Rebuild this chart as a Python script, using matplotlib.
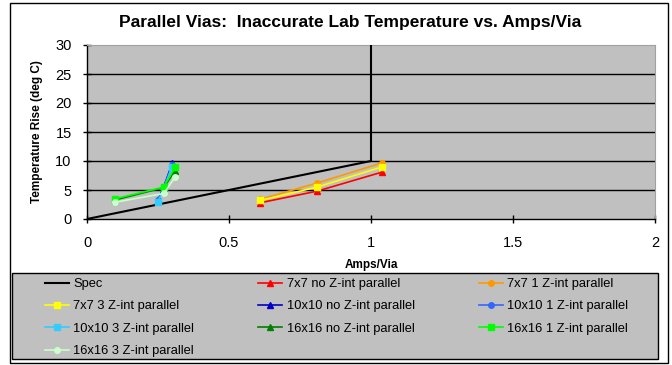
import matplotlib.pyplot as plt
from matplotlib.patches import Rectangle

plt.rcParams['font.family'] = ['Liberation Sans', 'DejaVu Sans']

# spec line
spec_x = [0, 1, 1]
spec_y = [0, 10, 30]

# 7x7 series
x7 = [0.61, 0.81, 1.04]
y7_no = [2.8, 4.8, 8.1]
y7_1 = [3.4, 6.2, 9.7]
y7_3 = [3.2, 5.5, 9.0]

# 10x10 series
x10 = [0.25, 0.27, 0.30]
y10_no = [3.3, 5.5, 9.6]
y10_1 = [3.2, 5.6, 9.3]
y10_3 = [3.0, 5.2, 9.0]

# 16x16 series
x16 = [0.10, 0.27, 0.31]
y16_no = [3.3, 5.4, 8.3]
y16_1 = [3.5, 5.5, 8.9]
y16_3 = [2.9, 4.4, 7.2]

series = [
    ('7x7 no Z-int parallel', x7, y7_no, '#FF0000', '^'),
    ('7x7 1 Z-int parallel', x7, y7_1, '#FF9900', 'o'),
    ('7x7 3 Z-int parallel', x7, y7_3, '#FFFF00', 's'),
    ('10x10 no Z-int parallel', x10, y10_no, '#0000CC', '^'),
    ('10x10 1 Z-int parallel', x10, y10_1, '#3366FF', 'o'),
    ('10x10 3 Z-int parallel', x10, y10_3, '#33CCFF', 's'),
    ('16x16 no Z-int parallel', x16, y16_no, '#008000', '^'),
    ('16x16 1 Z-int parallel', x16, y16_1, '#00FF00', 's'),
    ('16x16 3 Z-int parallel', x16, y16_3, '#CCFFCC', 'o'),
]

fig = plt.figure(figsize=(6.72, 3.65), dpi=100)
# outer chart border
fig.patches.append(Rectangle((10/672, 1-363/365), 658/672, 360/365, transform=fig.transFigure,
                             fill=False, edgecolor='black', linewidth=1))
# legend box
fig.patches.append(Rectangle((12/672, 1-359/365), 646/672, 86/365, transform=fig.transFigure,
                             facecolor='#C0C0C0', edgecolor='black', linewidth=1))

ax = fig.add_axes([87/672, 1-219/365, 568/672, 174/365])
ax.set_facecolor('#C0C0C0')
for yy in [5, 10, 15, 20, 25]:
    ax.axhline(yy, color='black', linewidth=1, zorder=1)

handles = []
h, = ax.plot(spec_x, spec_y, color='black', linewidth=1.5, label='Spec', zorder=3)
handles.append(h)
for name, xs, ys, c, m in series:
    h, = ax.plot(xs, ys, color=c, marker=m, markersize=4, linewidth=1.2, label=name, zorder=4)
    handles.append(h)

ax.set_xlim(0, 2)
ax.set_ylim(0, 30)
ax.set_xticks([0, 0.5, 1, 1.5, 2])
ax.set_xticklabels(['0', '0.5', '1', '1.5', '2'])
ax.set_yticks([0, 5, 10, 15, 20, 25, 30])
ax.tick_params(direction='inout', length=6, labelsize=10.5, width=1)
ax.tick_params(axis='x', pad=9.5)
ax.tick_params(axis='y', pad=8)
ax.spines['top'].set_color('#A0A0A0')
ax.spines['right'].set_color('#A0A0A0')
ax.spines['left'].set_linewidth(1)
ax.spines['bottom'].set_linewidth(1)

ax.set_xlabel('Amps/Via', fontsize=8.5, fontweight='bold', labelpad=6.5)
ax.set_ylabel('Temperature Rise (deg C)', fontsize=8.5, fontweight='bold', labelpad=9)
fig.text(350/672, 1-23/365, 'Parallel Vias:  Inaccurate Lab Temperature vs. Amps/Via',
         ha='center', va='center', fontsize=12.5, fontweight='bold')

order = [0, 3, 6, 9, 1, 4, 7, 2, 5, 8]
leg = fig.legend([handles[i] for i in order], [handles[i].get_label() for i in order],
                 ncol=3, loc='upper left', bbox_to_anchor=(45/672, 1-278/365),
                 fontsize=9.3, frameon=False,
                 handlelength=1.85, handletextpad=0.32, labelspacing=0.8,
                 columnspacing=5.0, borderaxespad=0, borderpad=0)

fig.savefig('out.png', dpi=100)
